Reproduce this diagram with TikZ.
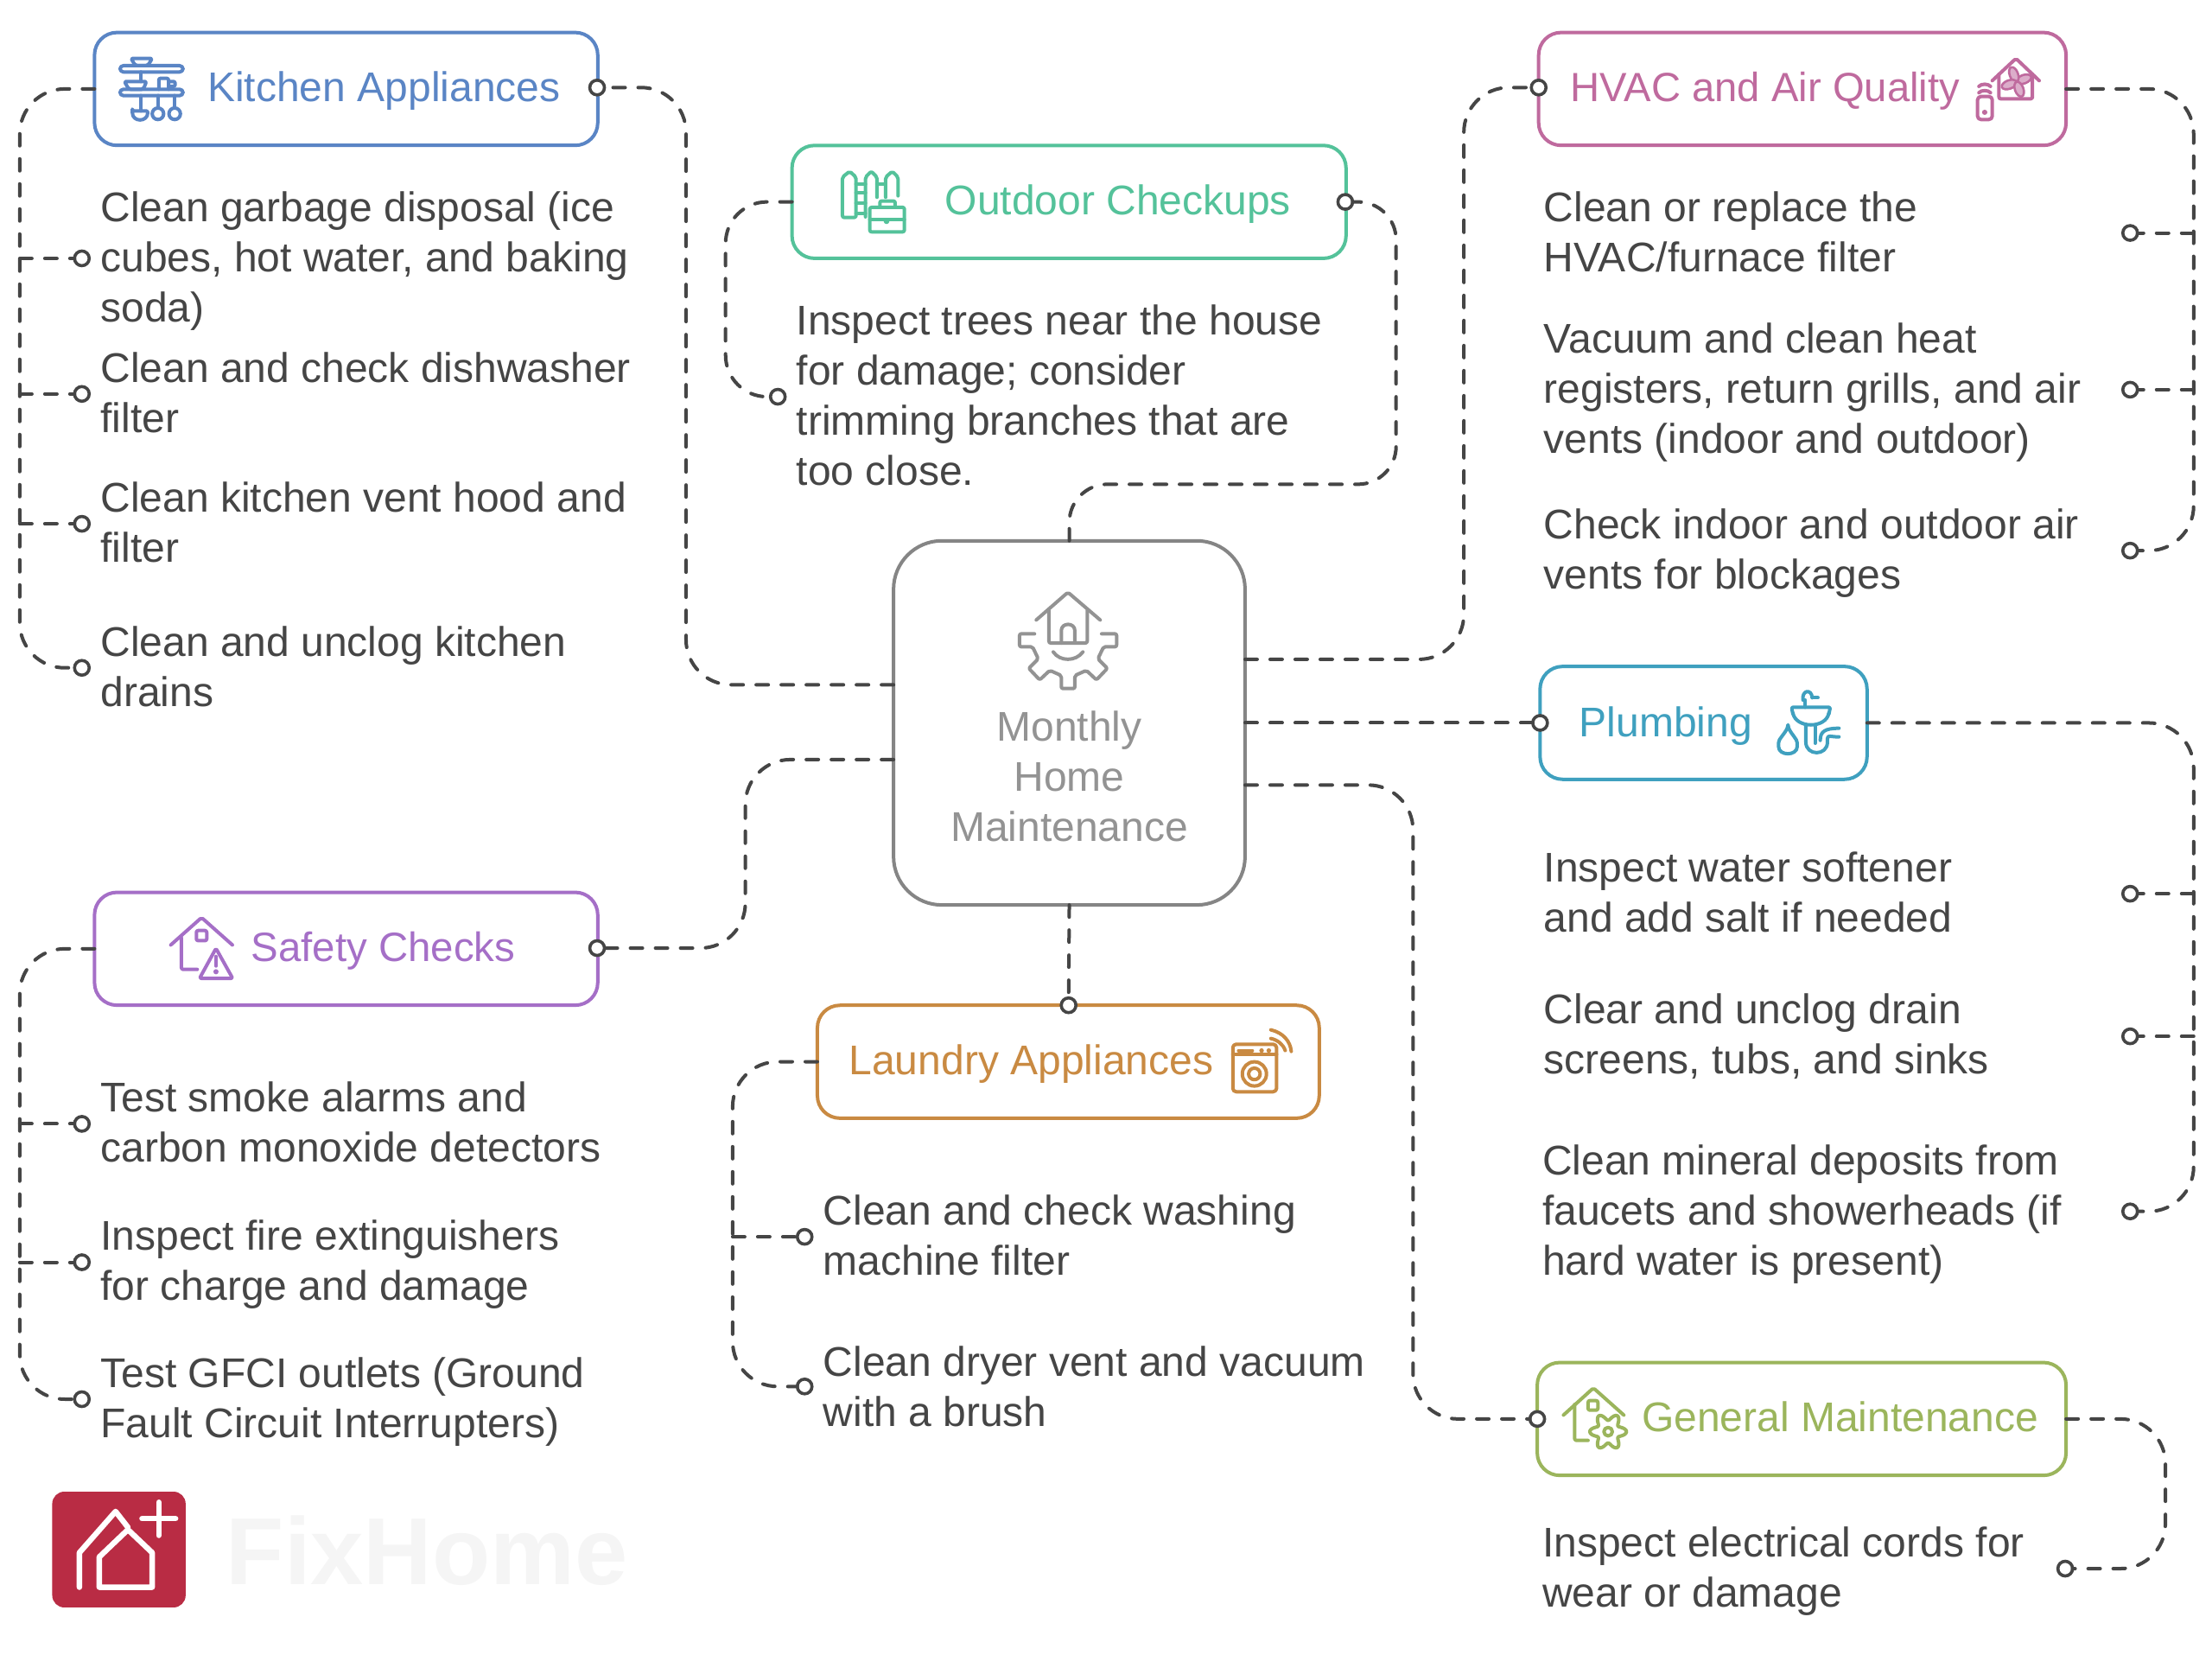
\documentclass[tikz,border=0pt]{standalone}
\usepackage{fontspec}
\setmainfont{Liberation Sans}
\definecolor{ink}{HTML}{454545}
\definecolor{cK}{HTML}{5A85C5}
\definecolor{cH}{HTML}{BF6A9E}
\definecolor{cO}{HTML}{54C29A}
\definecolor{cP}{HTML}{3FA0BF}
\definecolor{cS}{HTML}{A56FC7}
\definecolor{cL}{HTML}{C98A42}
\definecolor{cG}{HTML}{9BB55C}
\definecolor{cC}{HTML}{858585}
\definecolor{cT}{HTML}{939393}
\definecolor{cR}{HTML}{B92C44}
\tikzset{
  catbox/.style={draw=#1,line width=2pt,rounded corners=13pt,fill=white,minimum height=65.3pt,inner sep=0pt,outer sep=0pt},
  hubbox/.style={draw=cC,line width=2pt,rounded corners=28pt,fill=white,minimum width=203.4pt,minimum height=210.7pt,inner sep=0pt,outer sep=0pt},
  title/.style={text=#1,anchor=base,inner sep=0pt,font=\fontsize{24}{29}\selectfont},
  item/.style={text=ink,anchor=west,align=left,inner sep=0pt,font=\fontsize{24}{29}\selectfont},
  hubtext/.style={text=cT,align=center,inner sep=0pt,font=\fontsize{24}{29}\selectfont},
  conn/.style={draw=ink,line width=2pt,line cap=round,dash pattern=on 7pt off 7.5pt,rounded corners=#1},
  conn/.default=26pt,
  linkdot/.style={circle,draw=ink,fill=white,line width=1.8pt,minimum size=8.5pt,inner sep=0pt,outer sep=0pt},
  icon/.style={draw=#1,line width=2pt,line cap=round,line join=round,rounded corners=1pt},
}
\begin{document}
\begin{tikzpicture}[x=0.81685pt,y=-0.81685pt]
\useasboundingbox (0,0) rectangle (1567,1171.6);
\fill[white] (0,0) rectangle (1567,1171.6);

% rails
\coordinate (railK) at (14,0);
\coordinate (railKr) at (486,0);
\coordinate (railOl) at (514,0);
\coordinate (railOr) at (989,0);
\coordinate (railHl) at (1037,0);
\coordinate (railR) at (1554,0);
\coordinate (railGl) at (1001,0);
\coordinate (railGr) at (1534,0);
\coordinate (railSr) at (528,0);
\coordinate (railLa) at (519,0);
\coordinate (overO) at (0,343);

% boxes
\node[hubbox] (hub) at (757.5,512) {};
\node[catbox=cK,minimum width=291.2pt] (kitchen) at (245.2,63) {};
\node[catbox=cH,minimum width=305.2pt] (hvac) at (1276.8,63) {};
\node[catbox=cO,minimum width=320.6pt] (outdoor) at (757.3,143) {};
\node[catbox=cP,minimum width=189.2pt] (plumbing) at (1206.8,512) {};
\node[catbox=cS,minimum width=291.2pt] (safety) at (245.2,672) {};
\node[catbox=cL,minimum width=290.4pt] (laundry) at (756.8,752) {};
\node[catbox=cG,minimum width=306pt] (general) at (1276.3,1005) {};

\coordinate (hubL1) at (633,485);
\coordinate (hubL2) at (633,538);
\coordinate (hubR1) at (882,467);
\coordinate (hubR3) at (882,556);

% titles
\node[title=cK] (tK) at (272,72) {Kitchen Appliances};
\node[title=cO] (tO) at (792,152) {Outdoor Checkups};
\node[title=cH,font=\fontsize{23.6}{29}\selectfont] (tH) at (1250.5,72) {HVAC and Air Quality};
\node[title=cP] (tP) at (1180,522) {Plumbing};
\node[title=cS,font=\fontsize{23.7}{29}\selectfont] (tS) at (271.5,681) {Safety Checks};
\node[title=cL] (tL) at (730.5,761) {Laundry Appliances};
\node[title=cG] (tG) at (1303.5,1014) {General Maintenance};
\node[hubtext] (tC) at (757.5,550) {Monthly\\Home\\Maintenance};

% items
\node[item] (k1) at (71,185) {Clean garbage disposal (ice\\cubes, hot water, and baking\\soda)};
\node[item] (k2) at (71,278) {Clean and check dishwasher\\filter};
\node[item] (k3) at (71,370) {Clean kitchen vent hood and\\filter};
\node[item] (k4) at (71,472) {Clean and unclog kitchen\\drains};
\node[item] (o1) at (564,280) {Inspect trees near the house\\for damage; consider\\trimming branches that are\\too close.};
\node[item] (h1) at (1093.5,164) {Clean or replace the\\HVAC/furnace filter};
\node[item] (h2) at (1093.5,278) {Vacuum and clean heat\\registers, return grills, and air\\vents (indoor and outdoor)};
\node[item] (h3) at (1093.5,392) {Check indoor and outdoor air\\vents for blockages};
\node[item] (p1) at (1093.5,632) {Inspect water softener\\and add salt if needed};
\node[item] (p2) at (1093.5,734) {Clear and unclog drain\\screens, tubs, and sinks};
\node[item] (p3) at (1092.5,860) {Clean mineral deposits from\\faucets and showerheads (if\\hard water is present)};
\node[item] (g1) at (1092.5,1113) {Inspect electrical cords for\\wear or damage};
\node[item] (s1) at (71,795) {Test smoke alarms and\\carbon monoxide detectors};
\node[item] (s2) at (71,895.5) {Inspect fire extinguishers\\for charge and damage};
\node[item] (s3) at (71,993) {Test GFCI outlets (Ground\\Fault Circuit Interrupters)};
\node[item] (l1) at (583,875) {Clean and check washing\\machine filter};
\node[item] (l2) at (583,982) {Clean dryer vent and vacuum\\with a brush};

% dots
\node[linkdot] (dKr) at (423,62) {};
\node[linkdot] (dk1) at (58,183) {};
\node[linkdot] (dk2) at (58,279) {};
\node[linkdot] (dk3) at (58,371) {};
\node[linkdot] (dk4) at (58,473) {};
\node[linkdot] (dOr) at (953,143) {};
\node[linkdot] (do1) at (551,281) {};
\node[linkdot] (dHl) at (1090,62) {};
\node[linkdot] (dh1) at (1509,165) {};
\node[linkdot] (dh2) at (1509,276) {};
\node[linkdot] (dh3) at (1509,390) {};
\node[linkdot] (dPl) at (1091,512) {};
\node[linkdot] (dp1) at (1509,633) {};
\node[linkdot] (dp2) at (1509,734) {};
\node[linkdot] (dp3) at (1509,858) {};
\node[linkdot] (dGl) at (1089,1005) {};
\node[linkdot] (dg1) at (1463,1111) {};
\node[linkdot] (dSr) at (423,671.5) {};
\node[linkdot] (ds1) at (58,796) {};
\node[linkdot] (ds2) at (58,894) {};
\node[linkdot] (ds3) at (58,991) {};
\node[linkdot] (dLt) at (757,712) {};
\node[linkdot] (dl1) at (570,876) {};
\node[linkdot] (dl2) at (570,982) {};

% connectors: hub to categories
\draw[conn] (hubL1) -- (railKr |- hubL1) -- (railKr |- dKr) -- (dKr.east);
\draw[conn=22pt] (hub.north) -- (hub.north |- overO) -- (railOr |- overO) -- (railOr |- dOr) -- (dOr.east);
\draw[conn] (hubR1) -- (railHl |- hubR1) -- (railHl |- dHl) -- (dHl.west);
\draw[conn] (hub.east) -- (dPl.west);
\draw[conn] (hubR3) -- (railGl |- hubR3) -- (railGl |- dGl) -- (dGl.west);
\draw[conn] (hubL2) -- (railSr |- hubL2) -- (railSr |- dSr) -- (dSr.east);
\draw[conn] (hub.south) -- (dLt.north);

% connectors: categories to items
\draw[conn] (kitchen.west) -- (railK |- kitchen.west) -- (railK |- dk4) -- (dk4.west);
\draw[conn] (railK |- dk1) -- (dk1.west);
\draw[conn] (railK |- dk2) -- (dk2.west);
\draw[conn] (railK |- dk3) -- (dk3.west);
\draw[conn=24pt] (outdoor.west) -- (railOl |- outdoor.west) -- (railOl |- do1) -- (do1.west);
\draw[conn] (hvac.east) -- (railR |- hvac.east) -- (railR |- dh3) -- (dh3.east);
\draw[conn] (railR |- dh1) -- (dh1.east);
\draw[conn] (railR |- dh2) -- (dh2.east);
\draw[conn] (plumbing.east) -- (railR |- plumbing.east) -- (railR |- dp3) -- (dp3.east);
\draw[conn] (railR |- dp1) -- (dp1.east);
\draw[conn] (railR |- dp2) -- (dp2.east);
\draw[conn] (general.east) -- (railGr |- general.east) -- (railGr |- dg1) -- (dg1.east);
\draw[conn] (safety.west) -- (railK |- safety.west) -- (railK |- ds3) -- (ds3.west);
\draw[conn] (railK |- ds1) -- (ds1.west);
\draw[conn] (railK |- ds2) -- (ds2.west);
\draw[conn] (laundry.west) -- (railLa |- laundry.west) -- (railLa |- dl2) -- (dl2.west);
\draw[conn] (railLa |- dl1) -- (dl1.west);

% hub icon
\begin{scope}[shift={(612.1,367.3)},scale=0.204]
\draw[icon=cT] (598,352) -- (708,256) -- (820,352);
\draw[icon=cT] (642,320) -- (642,432) -- (775,432) -- (775,320);
\draw[icon=cT] (685,432) -- (685,395) .. controls (685,360) and (732,360) .. (732,395) -- (732,432);
\draw[icon=cT] (657,463) .. controls (680,497) and (735,497) .. (760,463);
\draw[icon=cT] (592,400) -- (540,400) -- (540,445) -- (585,445) -- (605,487) -- (572,520) -- (610,560) -- (645,527) -- (685,545) -- (685,590) -- (732,590) -- (732,545) -- (772,527) -- (807,560) -- (845,520) -- (812,487) -- (832,445) -- (877,445) -- (877,400) -- (825,400);
\end{scope}

% kitchen icon
\begin{scope}[xscale=0.3125,yscale=0.204]
\draw[icon=cK,rounded corners=2pt] (272,228) rectangle (415,250);
\draw[icon=cK,rounded corners=2pt] (272,310) rectangle (415,332);
\draw[icon=cK] (297,203) -- (345,203) -- (335,228) -- (307,228) -- cycle;
\draw[icon=cK] (282,283) -- (332,283) -- (325,310) -- (292,310) -- cycle;
\draw[icon=cK] (360,310) -- (360,272) -- (382,272) -- (382,310);
\draw[icon=cK] (382,283) -- (397,283) -- (397,300) -- (382,300);
\draw[icon=cK] (320,250) -- (320,283);
\draw[icon=cK] (320,332) -- (320,385);
\draw[icon=cK] (358,332) -- (358,375);
\draw[icon=cK] (396,332) -- (396,375);
\draw[icon=cK] (300,385) -- (335,385) .. controls (335,425) and (300,425) .. (300,385) -- cycle;
\draw[icon=cK] (358,395) ellipse (13 and 20);
\draw[icon=cK] (396,395) ellipse (13 and 20);
\end{scope}

% HVAC icon
\begin{scope}[shift={(1071.2,0)},xscale=0.3164,yscale=0.204]
\draw[icon=cH] (1075,280) -- (1128,203) -- (1180,280);
\draw[icon=cH] (1090,258) -- (1090,343) -- (1165,343) -- (1165,258);
\draw[icon=cH,rounded corners=2pt] (1042,335) rectangle (1075,415);
\fill[cH] (1058,390) ellipse (6 and 9);
\draw[icon=cH] (1045,322) .. controls (1050,312) and (1066,312) .. (1071,322);
\draw[icon=cH] (1045,300) .. controls (1050,290) and (1066,290) .. (1071,300);
\end{scope}
\foreach \a in {20,110,200,290}
  \draw[draw=cH,fill=cH!55,line width=1.3pt,rotate around={\a:(1428.5,58)}] (1434,58) ellipse (5.5 and 3);

% outdoor icon
\begin{scope}[shift={(550.9,91.8)},scale=0.204]
\draw[icon=cO] (225,305) -- (225,165) -- (250,145) -- (272,165) -- (272,305) -- cycle;
\draw[icon=cO] (272,190) -- (305,190);
\draw[icon=cO] (272,220) -- (305,220);
\draw[icon=cO] (272,255) -- (305,255);
\draw[icon=cO] (272,290) -- (305,290);
\draw[icon=cO] (305,303) -- (305,165) -- (325,145) -- (345,165) -- (345,235);
\draw[icon=cO] (345,190) -- (375,190);
\draw[icon=cO] (375,235) -- (375,165) -- (398,145) -- (418,165) -- (418,230);
\draw[icon=cO] (320,270) rectangle (440,355);
\draw[icon=cO] (355,270) -- (355,248) -- (408,248) -- (408,270);
\draw[icon=cO] (320,312) -- (440,312);
\fill[cO] (378,318) circle (10);
\end{scope}

% plumbing icon
\begin{scope}[shift={(1071.2,459.1)},scale=0.204]
\draw[icon=cP] (1010,180) .. controls (1005,145) and (1040,140) .. (1042,172);
\draw[icon=cP] (1018,180) -- (1018,205);
\draw[icon=cP] (1042,172) -- (1062,172);
\draw[icon=cP] (975,228) -- (970,205) -- (1105,205) -- (1100,228);
\draw[icon=cP] (975,225) .. controls (985,280) and (1090,280) .. (1100,225);
\draw[icon=cP] (1020,268) -- (1020,320) .. controls (1020,375) and (1095,375) .. (1095,320) .. controls (1095,300) and (1105,308) .. (1135,308);
\draw[icon=cP] (1052,268) -- (1052,330);
\draw[icon=cP] (1070,320) .. controls (1070,290) and (1085,278) .. (1135,278);
\draw[icon=cP] (958,272) .. controls (945,300) and (925,315) .. (925,335) .. controls (925,375) and (990,375) .. (990,335) .. controls (990,315) and (970,300) .. (958,272) -- cycle;
\end{scope}

% safety icon
\begin{scope}[shift={(61.2,624.4)},scale=0.204]
\draw[icon=cS] (293,220) -- (400,125) -- (507,220);
\draw[icon=cS] (330,195) -- (330,305) -- (385,305);
\draw[icon=cS] (382,170) rectangle (418,205);
\draw[icon=cS] (450,232) -- (508,336) -- (393,336) -- cycle;
\draw[icon=cS] (450,260) -- (450,293);
\fill[cS] (450,313) circle (9);
\end{scope}

% laundry icon
\begin{scope}[shift={(826.4,703.9)},scale=0.204]
\draw[icon=cL,rounded corners=2pt] (230,175) rectangle (382,340);
\draw[icon=cL] (230,210) -- (382,210);
\draw[icon=cL] (250,197) -- (298,197);
\fill[cL] (330,197) circle (8);
\fill[cL] (355,197) circle (8);
\draw[icon=cL] (305,278) circle (42);
\draw[icon=cL] (305,278) circle (20);
\draw[icon=cL] (362,125) .. controls (405,135) and (430,165) .. (433,200);
\draw[icon=cL] (362,155) .. controls (385,160) and (405,175) .. (412,197);
\end{scope}

% general icon
\begin{scope}[shift={(1071.2,948.8)},xscale=0.3164,yscale=0.204]
\draw[icon=cG] (115,262) -- (182,168) -- (250,262);
\draw[icon=cG] (140,225) -- (140,350) -- (170,350);
\draw[icon=cG] (170,212) rectangle (192,245);
\end{scope}
\draw[icon=cG,fill=white,rounded corners=0pt] plot[domain=0:360,samples=73,smooth] ({1139.2+(10.5+2.5*cos(6*\x))*cos(\x)},{1014+(10.5+2.5*cos(6*\x))*sin(\x)});
\draw[icon=cG] (1139.2,1014) circle (3);

% logo
\fill[cR,rounded corners=7pt] (37,1056.5) rectangle (131.5,1138.5);
\begin{scope}[shift={(0,1028.3)},xscale=0.3125,yscale=0.204]
\draw[white,line width=3.2pt,line cap=round,line join=round] (225,470) -- (225,365) -- (290,270) -- (345,350) -- (345,470) -- cycle;
\draw[white,line width=3.2pt,line cap=round,line join=round] (180,470) -- (180,350) -- (262,207) -- (290,262);
\draw[white,line width=3.2pt,line cap=round] (360,175) -- (360,290);
\draw[white,line width=3.2pt,line cap=round] (322,232) -- (398,232);
\end{scope}
\node[text=black!4,anchor=base west,inner sep=0pt,font=\fontsize{55}{60}\selectfont\bfseries] (brand) at (160,1122) {FixHome};
\end{tikzpicture}
\end{document}
